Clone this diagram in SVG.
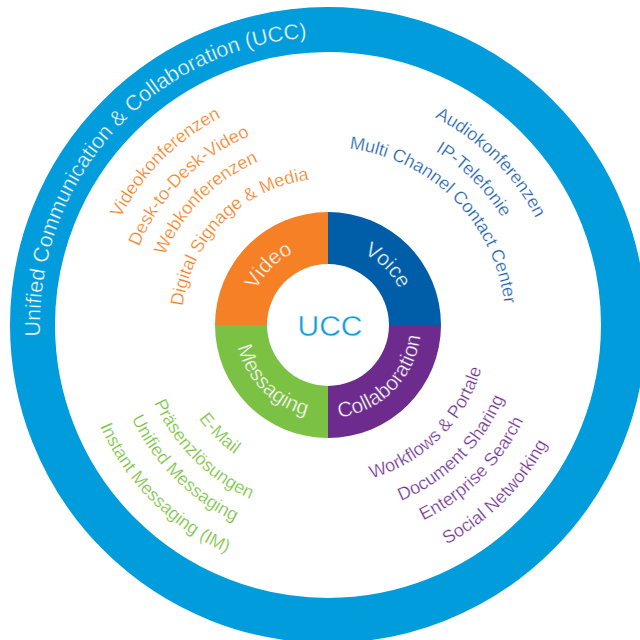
<svg xmlns="http://www.w3.org/2000/svg" width="640" height="640" viewBox="0 0 640 640">
<style>
text{font-family:"Liberation Sans",Arial,sans-serif;}
.ring{fill:none;stroke:#019cdb;stroke-width:45;}
.ringtxt{fill:#ffffff;font-size:21.5px;stroke:#019cdb;stroke-width:0.4px;}
.seg{font-size:21px;fill:#ffffff;stroke-width:0.4px;}
.item{font-size:18px;stroke:#ffffff;stroke-width:0.25px;}
.orange{fill:#f47f22;}
.blue{fill:#1c62ad;}
.green{fill:#76bf3c;}
.purple{fill:#733592;}
</style>
<defs>
<path id="outerArc" d="M328,613 A288,288 0 1 1 616,325"/>
<path id="u80" d="M248,325 A80,80 0 0 1 408,325"/>
<path id="l93" d="M235,325 A93,93 0 0 0 421,325"/>
<path id="u146" d="M181.5,325 A146.5,146.5 0 0 1 474.5,325"/>
<path id="u177" d="M150.5,325 A177.5,177.5 0 0 1 505.5,325"/>
<path id="u205" d="M123.5,325 A204.5,204.5 0 0 1 532.5,325"/>
<path id="u233" d="M94.5,325 A233.5,233.5 0 0 1 561.5,325"/>
<path id="l160" d="M168.5,325 A159.5,159.5 0 0 0 487.5,325"/>
<path id="l191" d="M137.5,325 A190.5,190.5 0 0 0 518.5,325"/>
<path id="l218" d="M110.5,325 A217.5,217.5 0 0 0 545.5,325"/>
<path id="l250" d="M78.5,325 A249.5,249.5 0 0 0 577.5,325"/>
</defs>

<g id="ucc-ring">
<circle class="ring" cx="328" cy="325" r="295.5"/>
<text class="ringtxt" text-anchor="middle"><textPath href="#outerArc" startOffset="48.8%">Unified Communication &amp; Collaboration (UCC)</textPath></text>
</g>

<g id="video">
<path d="M215,325 A113,113 0 0 1 328,212 L328,264 A61,61 0 0 0 267,325 Z" fill="#f58025"/>
<text class="seg" stroke="#f58025" text-anchor="middle"><textPath href="#u80" startOffset="25%">Video</textPath></text>
</g>
<g id="voice">
<path d="M328,212 A113,113 0 0 1 441,325 L389,325 A61,61 0 0 0 328,264 Z" fill="#005ea8"/>
<text class="seg" stroke="#005ea8" text-anchor="middle"><textPath href="#u80" startOffset="75%">Voice</textPath></text>
</g>
<g id="collaboration">
<path d="M441,325 A113,113 0 0 1 328,438 L328,386 A61,61 0 0 0 389,325 Z" fill="#6d2c8d"/>
<text class="seg" stroke="#6d2c8d" text-anchor="middle"><textPath href="#l93" startOffset="75%">Collaboration</textPath></text>
</g>
<g id="messaging">
<path d="M328,438 A113,113 0 0 1 215,325 L267,325 A61,61 0 0 0 328,386 Z" fill="#7bc143"/>
<text class="seg" stroke="#7bc143" text-anchor="middle"><textPath href="#l93" startOffset="25%">Messaging</textPath></text>
</g>

<g id="ucc-center">
<text x="330" y="336" text-anchor="middle" font-size="30" fill="#0d9edb" stroke="#ffffff" stroke-width="0.4">UCC</text>
</g>

<g id="video-items">
<text class="item orange" text-anchor="middle"><textPath href="#u233" startOffset="25%">Videokonferenzen</textPath></text>
<text class="item orange" text-anchor="middle"><textPath href="#u205" startOffset="25%">Desk-to-Desk-Video</textPath></text>
<text class="item orange" text-anchor="middle"><textPath href="#u177" startOffset="25%">Webkonferenzen</textPath></text>
<text class="item orange" text-anchor="middle"><textPath href="#u146" startOffset="25%">Digital Signage &amp; Media</textPath></text>
</g>

<g id="voice-items">
<text class="item blue" text-anchor="middle"><textPath href="#u233" startOffset="75%">Audiokonferenzen</textPath></text>
<text class="item blue" text-anchor="middle"><textPath href="#u205" startOffset="75%">IP-Telefonie</textPath></text>
<text class="item blue" text-anchor="middle"><textPath href="#u177" startOffset="75%">Multi Channel Contact Center</textPath></text>
</g>

<g id="messaging-items">
<text class="item green" text-anchor="middle"><textPath href="#l160" startOffset="25%">E-Mail</textPath></text>
<text class="item green" text-anchor="middle"><textPath href="#l191" startOffset="25%">Präsenzlösungen</textPath></text>
<text class="item green" text-anchor="middle"><textPath href="#l218" startOffset="25%">Unified Messaging</textPath></text>
<text class="item green" text-anchor="middle"><textPath href="#l250" startOffset="25%">Instant Messaging (IM)</textPath></text>
</g>

<g id="collaboration-items">
<text class="item purple" text-anchor="middle"><textPath href="#l160" startOffset="75%">Workflows &amp; Portale</textPath></text>
<text class="item purple" text-anchor="middle"><textPath href="#l191" startOffset="75%">Document Sharing</textPath></text>
<text class="item purple" text-anchor="middle"><textPath href="#l218" startOffset="75%">Enterprise Search</textPath></text>
<text class="item purple" text-anchor="middle"><textPath href="#l250" startOffset="75%">Social Networking</textPath></text>
</g>
</svg>
